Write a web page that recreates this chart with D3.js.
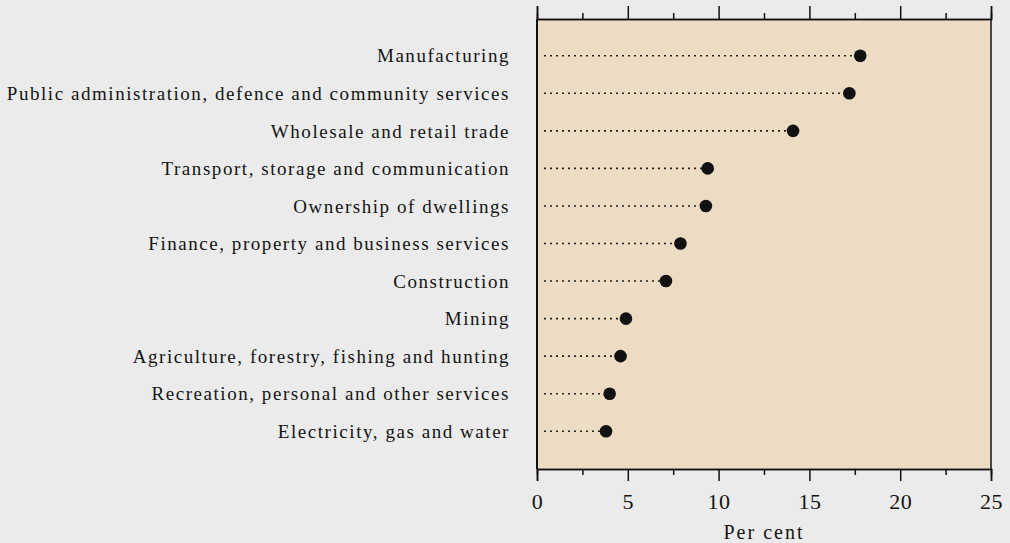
<!DOCTYPE html>
<html>
<head>
<meta charset="utf-8">
<script src="https://cdn.jsdelivr.net/npm/d3@7"></script>
<style>
  body { margin: 0; background: #ebebeb; }
  svg { display: block; }
  text { font-family: "Liberation Serif", "DejaVu Serif", serif; fill: #141414; }
</style>
</head>
<body>
<div id="chart"></div>
<script>
// industries, top to bottom
const industries = [
    "Manufacturing",
    "Public administration, defence and community services",
    "Wholesale and retail trade",
    "Transport, storage and communication",
    "Ownership of dwellings",
    "Finance, property and business services",
    "Construction",
    "Mining",
    "Agriculture, forestry, fishing and hunting",
    "Recreation, personal and other services",
    "Electricity, gas and water"
];
const shares = [17.8, 17.2, 14.1, 9.4, 9.3, 7.9, 7.1, 4.9, 4.6, 4.0, 3.8];
const majorTicks = [0, 5, 10, 15, 20, 25];
const minorTicks = [2.5, 7.5, 12.5, 17.5, 22.5];

const width = 1010, height = 543;
const margin = {top: 19, right: 19, bottom: 74, left: 537};

const svg = d3.select("#chart")
    .append("svg")
    .attr("width", width)
    .attr("height", height);

const innerW = width - margin.left - margin.right;
const innerH = height - margin.top - margin.bottom;

const g = svg.append("g")
    .attr("transform", "translate(" + margin.left + "," + margin.top + ")");

const x = d3.scaleLinear().domain([0, 25]).range([0, innerW]);
const y = d3.scaleBand()
    .domain(industries)
    .range([18, innerH - 19])
    .paddingInner(0);

// panel
g.append("rect")
    .attr("width", innerW)
    .attr("height", innerH)
    .attr("fill", "#ecdcc3");

// bottom axis
const bottom = g.append("g")
    .attr("transform", "translate(0," + innerH + ")")
    .call(d3.axisBottom(x).tickValues(majorTicks).tickSize(12).tickPadding(12).tickFormat(d3.format("d")));
bottom.selectAll("text")
    .attr("font-size", 22)
    .style("font-size", "22px")
    .style("letter-spacing", "0.5px");
g.append("g")
    .attr("transform", "translate(0," + innerH + ")")
    .call(d3.axisBottom(x).tickValues(minorTicks).tickSize(6).tickFormat(""));

// top axis
g.append("g")
    .call(d3.axisTop(x).tickValues(majorTicks).tickSize(13).tickFormat(""));
g.append("g")
    .call(d3.axisTop(x).tickValues(minorTicks).tickSize(6).tickFormat(""));

g.selectAll(".domain").attr("stroke", "#111").attr("stroke-width", 1.5);
g.selectAll(".tick line").attr("stroke", "#111").attr("stroke-width", 1.5);

// sides of the frame
g.append("line").attr("x1", 0).attr("x2", 0).attr("y1", 0).attr("y2", innerH)
    .attr("stroke", "#111").attr("stroke-width", 2);
g.append("line").attr("x1", innerW).attr("x2", innerW).attr("y1", 0).attr("y2", innerH)
    .attr("stroke", "#111").attr("stroke-width", 1.5);

const cy = d => y(d) + y.bandwidth() / 2;

// dotted leaders
g.selectAll(".leader")
    .data(industries)
    .enter()
    .append("line")
    .attr("class", "leader")
    .attr("x1", 7)
    .attr("x2", (d, i) => x(shares[i]))
    .attr("y1", cy)
    .attr("y2", cy)
    .attr("stroke", "#222")
    .attr("stroke-width", 1.6)
    .attr("stroke-dasharray", "2,4");

// points
g.selectAll(".pt")
    .data(industries)
    .enter()
    .append("circle")
    .attr("class", "pt")
    .attr("cx", (d, i) => x(shares[i]))
    .attr("cy", cy)
    .attr("r", 6.3)
    .attr("fill", "#111");

// category labels
g.selectAll(".lab")
    .data(industries)
    .enter()
    .append("text")
    .attr("class", "lab")
    .attr("x", -27)
    .attr("y", cy)
    .attr("dy", "0.35em")
    .attr("text-anchor", "end")
    .style("font-size", "19px")
    .style("letter-spacing", "1.55px")
    .text(d => d);

// axis title
svg.append("text")
    .attr("x", margin.left + innerW / 2)
    .attr("y", 539)
    .attr("text-anchor", "middle")
    .style("font-size", "20px")
    .style("letter-spacing", "2px")
    .text("Per cent");
</script>
</body>
</html>
